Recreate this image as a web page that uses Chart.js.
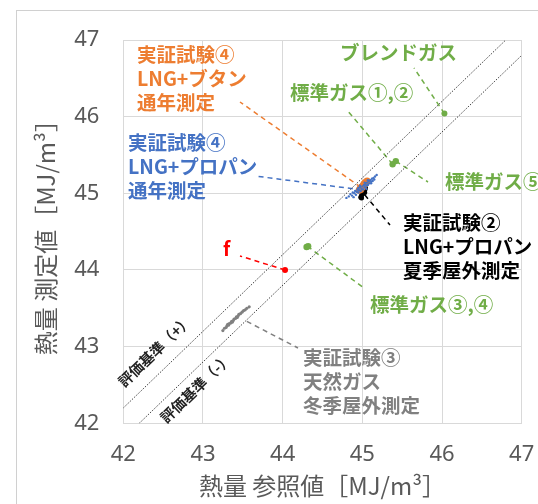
<!DOCTYPE html>
<html>
<head>
<meta charset="utf-8">
<script src="https://cdn.jsdelivr.net/npm/chart.js@4"></script>
<style>
  body { margin: 0; background: #fff; }
</style>
</head>
<body>
<canvas id="chart" width="538" height="504"></canvas>
<script>
// axis ticks
let ticks = [42, 43, 44, 45, 46, 47];

// evaluation criteria lines (+/- 0.2 MJ/m3)
let plusX = [42, 46.8], plusY = [42.2, 47];
let minusX = [42.2, 47], minusY = [42, 46.8];

// blend gas, standard gases, sample f
let blendX = [46.03], blendY = [46.04];
let stdX = [45.38, 45.42, 44.30, 44.32];
let stdY = [45.38, 45.42, 44.30, 44.31];
let fX = [44.03], fY = [44.00];

// test 4: LNG + butane, all year
let butaneX = [44.96, 44.97, 44.98, 44.99, 45.00, 45.01, 45.02, 45.03, 45.04, 45.05, 45.06, 44.98, 45.00, 45.02];
let butaneY = [45.04, 45.06, 45.07, 45.08, 45.09, 45.10, 45.12, 45.13, 45.14, 45.15, 45.16, 45.05, 45.08, 45.11];

// test 4: LNG + propane, all year
let propaneX = [44.80, 44.83, 44.85, 44.87, 44.88, 44.90, 44.91, 44.92, 44.93, 44.94, 44.95, 44.95, 44.96, 44.97, 44.98, 44.99, 45.00, 45.01, 45.02, 45.03,
                45.04, 45.05, 45.06, 45.07, 45.08, 45.09, 45.10, 45.11, 45.12, 45.13, 45.14, 45.15, 45.16, 45.18, 44.89, 44.97, 45.03, 45.07, 45.11, 45.05];
let propaneY = [44.94, 44.96, 44.99, 44.97, 45.01, 45.00, 45.03, 44.98, 45.02, 45.05, 45.01, 45.07, 45.04, 45.08, 45.03, 45.06, 45.09, 45.05, 45.11, 45.08,
                45.12, 45.10, 45.14, 45.11, 45.16, 45.13, 45.17, 45.15, 45.19, 45.16, 45.20, 45.18, 45.22, 45.24, 44.95, 45.10, 45.14, 45.17, 45.13, 45.06];

// test 2: LNG + propane, summer outdoor
let summerX = [44.98, 44.99, 45.00, 45.01, 45.02, 45.00, 45.01, 45.03, 45.02, 45.04, 44.99, 45.03];
let summerY = [44.95, 44.97, 44.99, 45.00, 45.02, 45.03, 45.05, 45.04, 45.06, 45.07, 44.94, 45.01];

// test 3: natural gas, winter outdoor
let winterX = [43.25, 43.27, 43.29, 43.30, 43.32, 43.33, 43.35, 43.36, 43.38, 43.39, 43.41, 43.42, 43.44, 43.45, 43.47, 43.49, 43.51, 43.53, 43.55, 43.58, 43.31, 43.37, 43.43];
let winterY = [43.21, 43.24, 43.25, 43.27, 43.28, 43.30, 43.31, 43.33, 43.34, 43.36, 43.37, 43.39, 43.40, 43.42, 43.43, 43.45, 43.47, 43.48, 43.50, 43.52, 43.29, 43.32, 43.38];

function pts(xs, ys) {
    return xs.map((x, i) => ({ x: x, y: ys[i] }));
}

let orange = '#ED7D31', blue = '#4472C4', green = '#70AD47', gray = '#808080', red = '#FF0000';
let jp = '"Noto Sans CJK JP", sans-serif';

// text notes, placed in pixels
let notes = [
    { lines: ['実証試験④', 'LNG+ブタン', '通年測定'], color: orange, x: 137, y: 55 },
    { lines: ['実証試験④', 'LNG+プロパン', '通年測定'], color: blue, x: 128, y: 143 },
    { lines: ['ブレンドガス'], color: green, x: 340, y: 53 },
    { lines: ['標準ガス①,②'], color: green, x: 290, y: 93 },
    { lines: ['標準ガス⑤'], color: green, x: 445, y: 182 },
    { lines: ['実証試験②', 'LNG+プロパン', '夏季屋外測定'], color: '#000', x: 403, y: 223 },
    { lines: ['標準ガス③,④'], color: green, x: 370, y: 305 },
    { lines: ['実証試験③', '天然ガス', '冬季屋外測定'], color: gray, x: 303, y: 358 },
    { lines: ['f'], color: red, x: 223, y: 249 }
];

// dashed leaders: from a data point to a pixel near the note
let leaders = [
    { color: orange, from: [44.98, 45.08], to: [240, 102] },
    { color: blue, from: [44.88, 45.06], to: [255, 176] },
    { color: green, from: [46.03, 46.04], to: [414, 68] },
    { color: green, from: [45.38, 45.38], to: [347, 110] },
    { color: green, from: [45.42, 45.42], to: [428, 182] },
    { color: '#000', from: [45.03, 44.98], to: [390, 225] },
    { color: green, from: [44.31, 44.31], to: [364, 288] },
    { color: red, from: [44.03, 44.00], to: [240, 256] },
    { color: gray, from: [43.55, 43.33], to: [298, 348] }
];

let notePlugin = {
    id: 'notes',
    beforeDraw(chart) {
        let c = chart.ctx;
        c.save();
        c.fillStyle = '#fff';
        c.fillRect(0, 0, chart.width, chart.height);
        c.strokeStyle = '#D0D0D0';
        c.lineWidth = 1;
        c.strokeRect(16.5, 10.5, 700, 700);
        c.restore();
    },
    beforeDatasetsDraw(chart) {
        let c = chart.ctx, sx = chart.scales.x, sy = chart.scales.y;
        c.save();
        c.lineWidth = 1.5;
        c.setLineDash([5, 4]);
        leaders.forEach(l => {
            c.strokeStyle = l.color;
            c.beginPath();
            c.moveTo(sx.getPixelForValue(l.from[0]), sy.getPixelForValue(l.from[1]));
            c.lineTo(l.to[0], l.to[1]);
            c.stroke();
        });
        c.restore();
    },
    afterDraw(chart) {
        let c = chart.ctx;
        c.save();
        c.font = 'bold 19.5px ' + jp;
        c.textBaseline = 'middle';
        c.textAlign = 'left';
        notes.forEach(n => {
            c.fillStyle = n.color;
            n.lines.forEach((t, i) => c.fillText(t, n.x, n.y + i * 24));
        });
        // criteria labels along the diagonals
        let ang = -Math.atan2(chart.scales.y.height / 5, chart.scales.x.width / 5);
        c.font = 'bold 14.5px ' + jp;
        c.fillStyle = '#222';
        c.textAlign = 'center';
        [['評価基準（+）', 155, 351], ['評価基準（-）', 196, 388]].forEach(a => {
            c.save();
            c.translate(a[1], a[2]);
            c.rotate(ang);
            c.fillText(a[0], 0, 0);
            c.restore();
        });
        c.restore();
    }
};

function noPad(s) {
    s.paddingLeft = 0; s.paddingRight = 0; s.paddingTop = 0; s.paddingBottom = 0;
}

let ctx = document.getElementById('chart').getContext('2d');
let chart = new Chart(ctx, {
    type: 'scatter',
    data: {
        datasets: [
            { data: pts(plusX, plusY), type: 'line', borderColor: '#404040', borderWidth: 1, borderDash: [1.5, 1.5], pointRadius: 0, fill: false },
            { data: pts(minusX, minusY), type: 'line', borderColor: '#404040', borderWidth: 1, borderDash: [1.5, 1.5], pointRadius: 0, fill: false },
            { data: pts(winterX, winterY), backgroundColor: gray, borderWidth: 0, pointRadius: 1.6 },
            { data: pts(propaneX, propaneY), backgroundColor: blue, borderWidth: 0, pointRadius: 1.2 },
            { data: pts(butaneX, butaneY), backgroundColor: orange, borderWidth: 0, pointRadius: 3.5 },
            { data: pts(summerX, summerY), backgroundColor: '#000', borderWidth: 0, pointRadius: 2.5 },
            { data: pts(stdX, stdY), backgroundColor: green, borderWidth: 0, pointRadius: 3.2 },
            { data: pts(blendX, blendY), backgroundColor: green, borderWidth: 0, pointRadius: 3 },
            { data: pts(fX, fY), backgroundColor: red, borderWidth: 0, pointRadius: 3 }
        ]
    },
    options: {
        responsive: false,
        animation: false,
        layout: { padding: { left: 16, top: 40, right: 16.3, bottom: 0 } },
        plugins: {
            legend: { display: false },
            tooltip: { enabled: false }
        },
        scales: {
            x: {
                type: 'linear', min: ticks[0], max: ticks[ticks.length - 1],
                afterBuildTicks: s => { s.ticks = ticks.map(v => ({ value: v })); },
                ticks: { color: '#595959', font: { size: 22, family: '"Noto Sans", sans-serif' }, padding: 18 },
                grid: { color: '#D9D9D9', drawTicks: false },
                border: { color: '#D9D9D9' },
                title: { display: true, text: '熱量 参照値［MJ/m³］', color: '#595959', font: { size: 24, family: jp }, padding: { top: 0, bottom: 4 } },
                afterFit: s => { s.height = 80.7; noPad(s); }
            },
            y: {
                type: 'linear', min: ticks[0], max: ticks[ticks.length - 1],
                afterBuildTicks: s => { s.ticks = ticks.map(v => ({ value: v })); },
                ticks: { color: '#595959', font: { size: 22, family: '"Noto Sans", sans-serif' }, padding: 24 },
                grid: { color: '#D9D9D9', drawTicks: false },
                border: { color: '#D9D9D9' },
                title: { display: true, text: '熱量 測定値［MJ/m³］', color: '#595959', font: { size: 24, family: jp }, padding: { top: 15, bottom: 0 } },
                afterFit: s => { s.width = 107.3; noPad(s); }
            }
        }
    },
    plugins: [notePlugin]
});
</script>
</body>
</html>
